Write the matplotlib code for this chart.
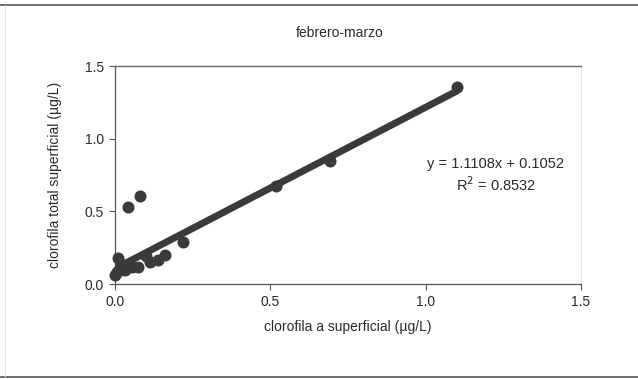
import matplotlib
matplotlib.use("Agg")
import matplotlib.pyplot as plt
from matplotlib.lines import Line2D
import numpy as np

plt.rcParams['font.family'] = ['Liberation Sans', 'DejaVu Sans']

# data
x_vals = [0.00, 0.011, 0.016, 0.032, 0.054, 0.075, 0.10, 0.113, 0.139, 0.16,
          0.22, 0.043, 0.080, 0.518, 0.691, 1.10, 0.005, 0.02]
y_vals = [0.06, 0.177, 0.108, 0.096, 0.12, 0.12, 0.19, 0.153, 0.165, 0.20,
          0.29, 0.532, 0.606, 0.674, 0.847, 1.356, 0.085, 0.14]
slope = 1.1108
intercept = 0.1052
r2 = 0.8532
title = "febrero-marzo"
xlabel = "clorofila a superficial (µg/L)"
ylabel = "clorofila total superficial (µg/L)"
ticks = [0.0, 0.5, 1.0, 1.5]
tick_labels = ["0.0", "0.5", "1.0", "1.5"]

W, H = 638, 379
fig = plt.figure(figsize=(W / 100, H / 100), dpi=100)
ax = fig.add_axes([115 / W, 1 - 284 / H, (581 - 115) / W, (284 - 66) / H])

col = "#3a3a3a"
txt = "#2a2a2a"
ax.scatter(x_vals, y_vals, s=75, color=col, zorder=3, linewidths=0, clip_on=False)
xs = np.array([min(x_vals), max(x_vals)])
ax.plot(xs, slope * xs + intercept, color=col, lw=5, solid_capstyle="round", zorder=2)

ax.set_xlim(0, 1.5)
ax.set_ylim(0, 1.5)
ax.set_xticks(ticks)
ax.set_xticklabels(tick_labels)
ax.set_yticks(ticks)
ax.set_yticklabels(tick_labels)
ax.tick_params(direction="out", length=4, width=0.8, colors="#555555",
               labelcolor=txt, labelsize=10, pad=4)

for s in ["left", "bottom"]:
    ax.spines[s].set_color("#555555")
    ax.spines[s].set_linewidth(0.9)
ax.spines["top"].set_color("#666666")
ax.spines["top"].set_linewidth(1.0)
ax.spines["right"].set_color("#dddddd")
ax.spines["right"].set_linewidth(0.6)

ax.set_xlabel(xlabel, fontsize=10, color=txt, labelpad=8)
ax.set_ylabel(ylabel, fontsize=10, color=txt, labelpad=16)

fig.text(340 / W, 1 - 33 / H, title, ha="center", va="center", fontsize=10, color=txt)
ax.text(496 / W, 1 - 164 / H, f"y = {slope}x + {intercept}", transform=fig.transFigure,
        ha="center", va="center", fontsize=10.5, color=txt)
ax.text(496 / W, 1 - 185 / H, f"R$^2$ = {r2}", transform=fig.transFigure,
        ha="center", va="center", fontsize=10.5, color=txt)

# outer frame of chart area
fig.add_artist(Line2D([0, 1], [1 - 5 / H, 1 - 5 / H], transform=fig.transFigure, color="#555555", lw=1.2))
fig.add_artist(Line2D([0, 1], [1 - 377 / H, 1 - 377 / H], transform=fig.transFigure, color="#555555", lw=1.2))
fig.add_artist(Line2D([5 / W, 5 / W], [1 - 377 / H, 1 - 5 / H], transform=fig.transFigure, color="#dddddd", lw=0.6))

fig.savefig("out.png", dpi=100)
